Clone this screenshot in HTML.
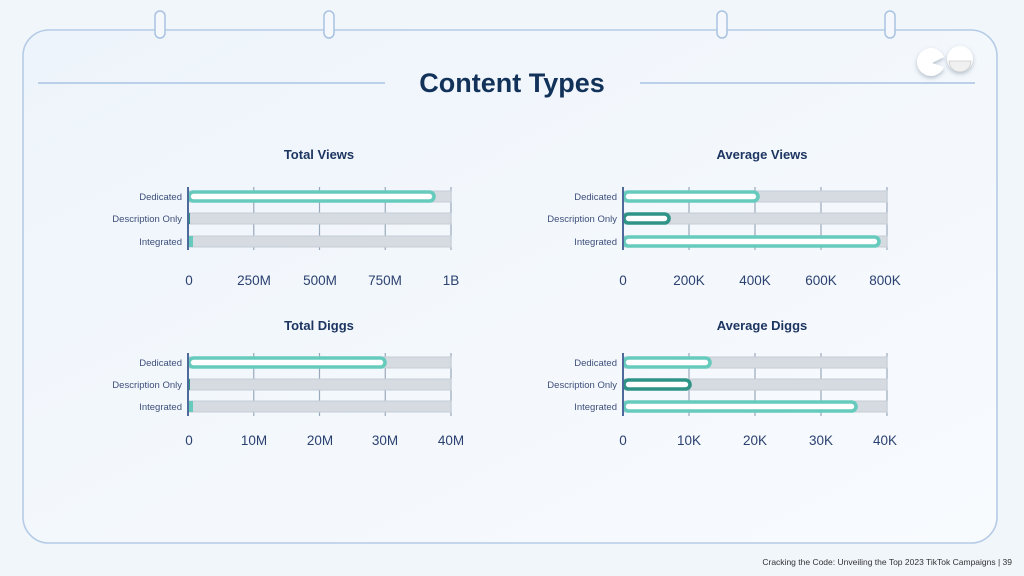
<!DOCTYPE html>
<html><head><meta charset="utf-8"><style>
html,body{margin:0;padding:0;width:1024px;height:576px;overflow:hidden;background:#f1f6fb;}
svg{display:block;font-family:"Liberation Sans",sans-serif;}
.lbl{font-size:9.5px;fill:#3d4f7a;text-anchor:end;}
.tk{font-size:13.5px;fill:#2b4170;text-anchor:middle;}
.ttl{font-size:13px;font-weight:bold;fill:#1d3561;text-anchor:middle;}
.grid{stroke:#9aa8bb;stroke-width:1.2;}
.bg{fill:#d6dbe1;stroke:#c5ccd5;stroke-width:1;}
.v{fill:#fff;stroke:#66cbbd;stroke-width:3.6;}
.vd{fill:#fff;stroke:#2f9487;stroke-width:3.6;}
.ax{stroke:#4d6a9a;stroke-width:2;}
</style></head><body>
<svg width="1024" height="576" viewBox="0 0 1024 576">
<defs>
<linearGradient id="g" x1="0" y1="0" x2="1" y2="1"><stop offset="0" stop-color="#eef4fb"/><stop offset="1" stop-color="#f8fbfe"/></linearGradient>
<filter id="sh" x="-50%" y="-50%" width="200%" height="200%"><feDropShadow dx="0" dy="2" stdDeviation="2" flood-color="#8a98a8" flood-opacity="0.6"/></filter>
</defs>
<rect width="1024" height="576" fill="#f1f6fb"/>
<rect x="23" y="30" width="974" height="513" rx="26" fill="url(#g)" stroke="#b5cbe6" stroke-width="1.6"/>
<g fill="#f4f8fc" stroke="#a9c2e0" stroke-width="1.5">
<rect x="155" y="11" width="10" height="27" rx="5"/>
<rect x="324" y="11" width="10" height="27" rx="5"/>
<rect x="717" y="11" width="10" height="27" rx="5"/>
<rect x="885" y="11" width="10" height="27" rx="5"/>
</g>
<line x1="38" y1="83" x2="385" y2="83" stroke="#a9c3e3" stroke-width="1.5"/>
<line x1="640" y1="83" x2="975" y2="83" stroke="#a9c3e3" stroke-width="1.5"/>
<text x="512" y="92" font-size="27" font-weight="bold" fill="#13325a" text-anchor="middle">Content Types</text>
<g filter="url(#sh)" fill="#fff">
<path d="M944 57 A14 14 0 1 0 944 67 L932 63 Z"/>
<circle cx="960" cy="59" r="13"/>
</g>
<path d="M949 61 L971 61 A11 11 0 0 1 949 61 Z" fill="#f0f0f0" stroke="#ccc" stroke-width="0.8"/>

<text class="ttl" x="319" y="159">Total Views</text>
<g class="grid"><line x1="253.75" y1="187" x2="253.75" y2="250"/><line x1="319.5" y1="187" x2="319.5" y2="250"/><line x1="385.25" y1="187" x2="385.25" y2="250"/><line x1="451" y1="187" x2="451" y2="250"/></g>
<rect class="bg" x="188" y="191" width="263" height="11"/>
<rect class="bg" x="188" y="213" width="263" height="11"/>
<rect class="bg" x="188" y="236" width="263" height="11"/>
<rect class="v" x="189" y="192" width="245" height="9" rx="4.5"/>
<rect x="188" y="213" width="2" height="11" fill="#2f9487"/>
<rect x="188" y="236" width="5" height="11" fill="#66cbbd"/>
<line class="ax" x1="188" y1="187" x2="188" y2="250"/>
<text class="lbl" x="182" y="200">Dedicated</text>
<text class="lbl" x="182" y="222">Description Only</text>
<text class="lbl" x="182" y="245">Integrated</text>
<text class="tk" x="189" y="285">0</text><text class="tk" x="254" y="285">250M</text><text class="tk" x="320" y="285">500M</text><text class="tk" x="385" y="285">750M</text><text class="tk" x="451" y="285">1B</text>

<text class="ttl" x="762" y="159">Average Views</text>
<g class="grid"><line x1="689" y1="187" x2="689" y2="250"/><line x1="755" y1="187" x2="755" y2="250"/><line x1="821" y1="187" x2="821" y2="250"/><line x1="887" y1="187" x2="887" y2="250"/></g>
<rect class="bg" x="623" y="191" width="264" height="11"/>
<rect class="bg" x="623" y="213" width="264" height="11"/>
<rect class="bg" x="623" y="236" width="264" height="11"/>
<rect class="v" x="624" y="192" width="134" height="9" rx="4.5"/>
<rect class="vd" x="624" y="214" width="45" height="9" rx="4.5"/>
<rect class="v" x="624" y="237" width="255" height="9" rx="4.5"/>
<line class="ax" x1="623" y1="187" x2="623" y2="250"/>
<text class="lbl" x="617" y="200">Dedicated</text>
<text class="lbl" x="617" y="222">Description Only</text>
<text class="lbl" x="617" y="245">Integrated</text>
<text class="tk" x="623" y="285">0</text><text class="tk" x="689" y="285">200K</text><text class="tk" x="755" y="285">400K</text><text class="tk" x="821" y="285">600K</text><text class="tk" x="885" y="285">800K</text>

<text class="ttl" x="319" y="330">Total Diggs</text>
<g class="grid"><line x1="253.75" y1="353" x2="253.75" y2="416"/><line x1="319.5" y1="353" x2="319.5" y2="416"/><line x1="385.25" y1="353" x2="385.25" y2="416"/><line x1="451" y1="353" x2="451" y2="416"/></g>
<rect class="bg" x="188" y="357" width="263" height="11"/>
<rect class="bg" x="188" y="379" width="263" height="11"/>
<rect class="bg" x="188" y="401" width="263" height="11"/>
<rect class="v" x="189" y="358" width="196" height="9" rx="4.5"/>
<rect x="188" y="379" width="2" height="11" fill="#2f9487"/>
<rect x="188" y="401" width="5" height="11" fill="#66cbbd"/>
<line class="ax" x1="188" y1="353" x2="188" y2="416"/>
<text class="lbl" x="182" y="366">Dedicated</text>
<text class="lbl" x="182" y="388">Description Only</text>
<text class="lbl" x="182" y="410">Integrated</text>
<text class="tk" x="189" y="445">0</text><text class="tk" x="254" y="445">10M</text><text class="tk" x="320" y="445">20M</text><text class="tk" x="385" y="445">30M</text><text class="tk" x="451" y="445">40M</text>

<text class="ttl" x="762" y="330">Average Diggs</text>
<g class="grid"><line x1="689" y1="353" x2="689" y2="416"/><line x1="755" y1="353" x2="755" y2="416"/><line x1="821" y1="353" x2="821" y2="416"/><line x1="887" y1="353" x2="887" y2="416"/></g>
<rect class="bg" x="623" y="357" width="264" height="11"/>
<rect class="bg" x="623" y="379" width="264" height="11"/>
<rect class="bg" x="623" y="401" width="264" height="11"/>
<rect class="v" x="624" y="358" width="86" height="9" rx="4.5"/>
<rect class="vd" x="624" y="380" width="66" height="9" rx="4.5"/>
<rect class="v" x="624" y="402" width="232" height="9" rx="4.5"/>
<line class="ax" x1="623" y1="353" x2="623" y2="416"/>
<text class="lbl" x="617" y="366">Dedicated</text>
<text class="lbl" x="617" y="388">Description Only</text>
<text class="lbl" x="617" y="410">Integrated</text>
<text class="tk" x="623" y="445">0</text><text class="tk" x="689" y="445">10K</text><text class="tk" x="755" y="445">20K</text><text class="tk" x="821" y="445">30K</text><text class="tk" x="885" y="445">40K</text>

<text x="1012" y="565" font-size="8.5" fill="#333" text-anchor="end">Cracking the Code: Unveiling the Top 2023 TikTok Campaigns |  39</text>
</svg>
</body></html>
